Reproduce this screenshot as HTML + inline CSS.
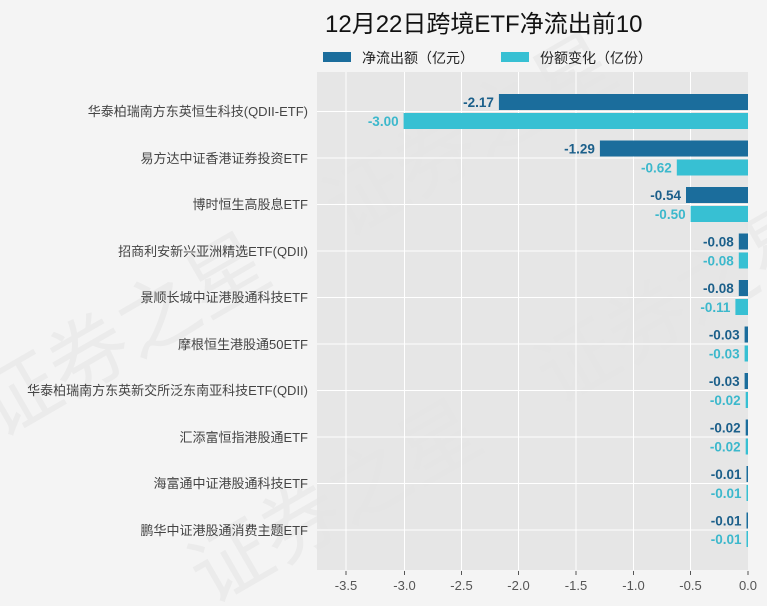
<!DOCTYPE html>
<html><head><meta charset="utf-8"><style>
html,body{margin:0;padding:0;background:#f4f4f4;overflow:hidden;width:767px;height:606px;}
svg{display:block;}
svg text{font-family:"Liberation Sans","Noto Sans CJK SC",sans-serif;}
</style></head><body>
<svg width="767" height="606" xmlns="http://www.w3.org/2000/svg" overflow="hidden">
<defs><clipPath id="cp"><rect width="767" height="606"/></clipPath></defs>
<rect width="767" height="606" fill="#f4f4f4"/>
<g clip-path="url(#cp)">
<g fill="#ebebeb" font-size="80" transform="rotate(-30 380 300)">
<text x="-20" y="230">证券之星</text><text x="380" y="230">证券之星</text>
<text x="80" y="480">证券之星</text><text x="480" y="480">证券之星</text>
</g>
</g>
<text x="325" y="32" font-size="24" fill="#111">12月22日跨境ETF净流出前10</text>
<rect x="323" y="52" width="28" height="10" fill="#1b6d9c"/>
<text x="362" y="63" font-size="14" fill="#222">净流出额（亿元）</text>
<rect x="501" y="52" width="28" height="10" fill="#37c0d3"/>
<text x="540" y="63" font-size="14" fill="#222">份额变化（亿份）</text>
<rect x="317" y="72" width="431" height="498" fill="#e4e4e4" opacity="0.92"/>
<g stroke="#fff" stroke-width="1">
<line x1="346" y1="72" x2="346" y2="570"/><line x1="404.5" y1="72" x2="404.5" y2="570"/>
<line x1="461.5" y1="72" x2="461.5" y2="570"/><line x1="518.5" y1="72" x2="518.5" y2="570"/>
<line x1="576" y1="72" x2="576" y2="570"/><line x1="633.5" y1="72" x2="633.5" y2="570"/>
<line x1="690.5" y1="72" x2="690.5" y2="570"/>
<line x1="317" y1="111.5" x2="748" y2="111.5"/><line x1="317" y1="158" x2="748" y2="158"/>
<line x1="317" y1="204.5" x2="748" y2="204.5"/><line x1="317" y1="251" x2="748" y2="251"/>
<line x1="317" y1="297.5" x2="748" y2="297.5"/><line x1="317" y1="344" x2="748" y2="344"/>
<line x1="317" y1="390.5" x2="748" y2="390.5"/><line x1="317" y1="437" x2="748" y2="437"/>
<line x1="317" y1="483.5" x2="748" y2="483.5"/><line x1="317" y1="530" x2="748" y2="530"/>
</g>
<g stroke="#555" stroke-width="1">
<line x1="346" y1="571" x2="346" y2="575"/><line x1="404.5" y1="571" x2="404.5" y2="575"/>
<line x1="461.5" y1="571" x2="461.5" y2="575"/><line x1="518.5" y1="571" x2="518.5" y2="575"/>
<line x1="576" y1="571" x2="576" y2="575"/><line x1="633.5" y1="571" x2="633.5" y2="575"/>
<line x1="690.5" y1="571" x2="690.5" y2="575"/><line x1="748" y1="571" x2="748" y2="575"/>
</g>
<g font-size="13" fill="#555" text-anchor="middle">
<text x="346" y="590">-3.5</text><text x="404.5" y="590">-3.0</text><text x="461.5" y="590">-2.5</text>
<text x="518.5" y="590">-2.0</text><text x="576" y="590">-1.5</text><text x="633.5" y="590">-1.0</text>
<text x="690.5" y="590">-0.5</text><text x="748" y="590">0.0</text>
</g>
<g font-size="13" fill="#444" text-anchor="end">
<text x="308" y="116">华泰柏瑞南方东英恒生科技(QDII-ETF)</text>
<text x="308" y="163">易方达中证香港证券投资ETF</text>
<text x="308" y="209">博时恒生高股息ETF</text>
<text x="308" y="256">招商利安新兴亚洲精选ETF(QDII)</text>
<text x="308" y="302">景顺长城中证港股通科技ETF</text>
<text x="308" y="349">摩根恒生港股通50ETF</text>
<text x="308" y="395">华泰柏瑞南方东英新交所泛东南亚科技ETF(QDII)</text>
<text x="308" y="442">汇添富恒指港股通ETF</text>
<text x="308" y="488">海富通中证港股通科技ETF</text>
<text x="308" y="535">鹏华中证港股通消费主题ETF</text>
</g>
<g fill="#1b6d9c">
<rect x="498.9" y="94" width="249.1" height="16"/>
<rect x="599.9" y="140.5" width="148.1" height="16"/>
<rect x="686" y="187" width="62" height="16"/>
<rect x="738.8" y="233.5" width="9.2" height="16"/>
<rect x="738.8" y="280" width="9.2" height="16"/>
<rect x="744.6" y="326.5" width="3.4" height="16"/>
<rect x="744.6" y="373" width="3.4" height="16"/>
<rect x="745.7" y="419.5" width="2.3" height="16"/>
<rect x="746.5" y="466" width="1.5" height="16"/>
<rect x="746.5" y="512.5" width="1.5" height="16"/>
</g>
<g fill="#37c0d3">
<rect x="403.6" y="113" width="344.4" height="16"/>
<rect x="676.8" y="159.5" width="71.2" height="16"/>
<rect x="690.6" y="206" width="57.4" height="16"/>
<rect x="738.8" y="252.5" width="9.2" height="16"/>
<rect x="735.4" y="299" width="12.6" height="16"/>
<rect x="744.6" y="345.5" width="3.4" height="16"/>
<rect x="745.7" y="392" width="2.3" height="16"/>
<rect x="745.7" y="438.5" width="2.3" height="16"/>
<rect x="746.5" y="485" width="1.5" height="16"/>
<rect x="746.5" y="531" width="1.5" height="16"/>
</g>
<g font-size="13.5" font-weight="bold" fill="#1b5f8a" text-anchor="end">
<text x="493.9" y="107">-2.17</text>
<text x="594.9" y="153.5">-1.29</text>
<text x="681" y="200">-0.54</text>
<text x="733.8" y="246.5">-0.08</text>
<text x="733.8" y="293">-0.08</text>
<text x="739.6" y="339.5">-0.03</text>
<text x="739.6" y="386">-0.03</text>
<text x="740.7" y="432.5">-0.02</text>
<text x="741.5" y="479">-0.01</text>
<text x="741.5" y="525.5">-0.01</text>
</g>
<g font-size="13.5" font-weight="bold" fill="#3cb8cc" text-anchor="end">
<text x="398.6" y="126">-3.00</text>
<text x="671.8" y="172.5">-0.62</text>
<text x="685.6" y="219">-0.50</text>
<text x="733.8" y="265.5">-0.08</text>
<text x="730.4" y="312">-0.11</text>
<text x="739.6" y="358.5">-0.03</text>
<text x="740.7" y="405">-0.02</text>
<text x="740.7" y="451.5">-0.02</text>
<text x="741.5" y="498">-0.01</text>
<text x="741.5" y="544">-0.01</text>
</g>
</svg>
</body></html>
